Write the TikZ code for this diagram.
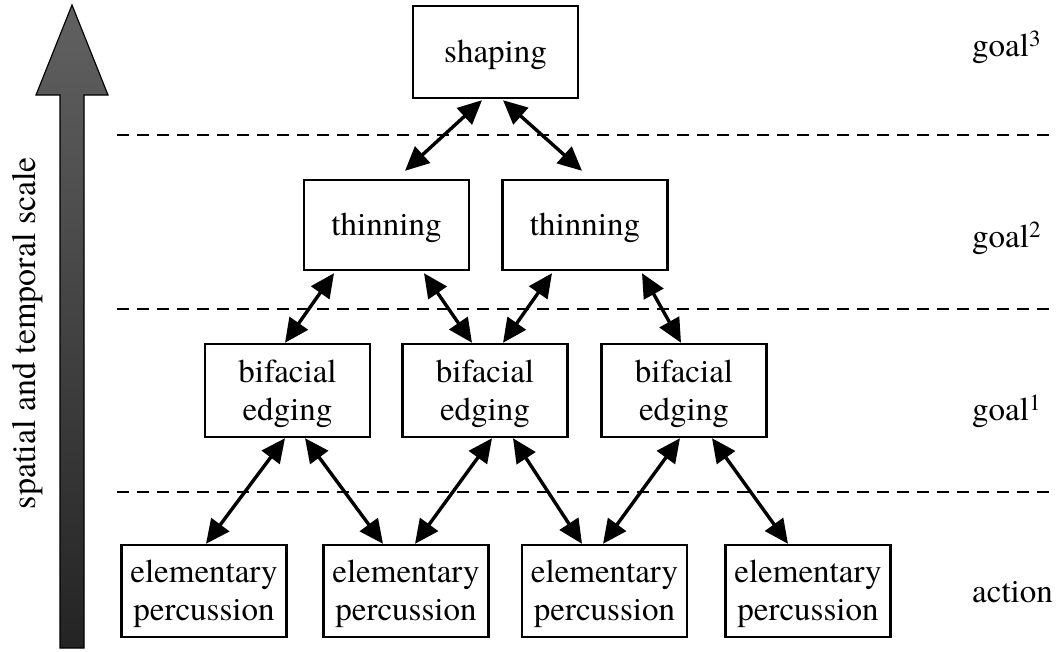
\documentclass[tikz,border=0pt]{standalone}
\usepackage{fontspec}
\setmainfont{texgyretermes}[Extension=.otf, UprightFont=*-regular, BoldFont=*-bold, ItalicFont=*-italic, BoldItalicFont=*-bolditalic]
\usetikzlibrary{arrows.meta}
\begin{document}
\begin{tikzpicture}[x=1pt,y=-1pt,
  box/.style={draw=black, line width=2.4pt, minimum width=165pt, minimum height=92pt, inner sep=0pt, align=center,
    text depth=1.5pt, font=\fontsize{33}{38}\selectfont},
  lvl/.style={anchor=base west, inner sep=0pt, font=\fontsize{33}{38}\selectfont},
  link/.style={line width=3.4pt, {Triangle[length=24pt,width=22pt]}-{Triangle[length=24pt,width=22pt]}},
  sep/.style={line width=2pt, dash pattern=on 12pt off 8pt}]
\useasboundingbox (0,0) rectangle (1062,651);
% big scale arrow
\path[draw=black, line width=1.2pt, top color=black!62, bottom color=black!86]
  (72,5) -- (108,95) -- (84,95) -- (84,648) -- (60,648) -- (60,95) -- (36,95) -- cycle;
\node[rotate=90, inner sep=0pt, font=\fontsize{34}{38}\selectfont] (scale) at (28,333) {spatial and temporal scale};
% separators
\coordinate (d1a) at (117,135); \coordinate (d1b) at (1052,135);
\coordinate (d2a) at (117,309); \coordinate (d2b) at (1052,309);
\coordinate (d3a) at (117,492); \coordinate (d3b) at (1052,492);
\draw[sep] (d1a) -- (d1b);
\draw[sep] (d2a) -- (d2b);
\draw[sep] (d3a) -- (d3b);
% boxes
\node[box] (s) at (495.5,52) {shaping};
\node[box, minimum height=90pt] (tl) at (386.5,225) {thinning};
\node[box, minimum height=90pt] (tr) at (585,225) {thinning};
\node[box, minimum height=93pt] (b1) at (287.5,390.5) {bifacial\\edging};
\node[box, minimum height=93pt] (b2) at (485,390.5) {bifacial\\edging};
\node[box, minimum height=93pt] (b3) at (684,390.5) {bifacial\\edging};
\node[box] (e1) at (204,591) {elementary\\percussion};
\node[box] (e2) at (406,591) {elementary\\percussion};
\node[box] (e3) at (604.5,591) {elementary\\percussion};
\node[box] (e4) at (808,591) {elementary\\percussion};
% level labels
\node[lvl] (g3) at (972,56) {goal\textsuperscript{3}};
\node[lvl] (g2) at (972,247) {goal\textsuperscript{2}};
\node[lvl] (g1) at (972,420) {goal\textsuperscript{1}};
\node[lvl] (ac) at (972,602) {action};
% links
\draw[link] ([xshift=-13.5pt,yshift=-1pt]s.south) -- ([xshift=18.5pt,yshift=8pt]tl.north);
\draw[link] ([xshift=7.5pt,yshift=-1pt]s.south) -- ([xshift=-3pt,yshift=8pt]tr.north);
\draw[link] ([xshift=-52.5pt,yshift=-2pt]tl.south) -- ([xshift=-2.5pt]b1.north);
\draw[link] ([xshift=37.5pt,yshift=-2pt]tl.south) -- ([xshift=-13pt]b2.north);
\draw[link] ([xshift=-33pt,yshift=-2pt]tr.south) -- ([xshift=18pt]b2.north);
\draw[link] ([xshift=57pt,yshift=-2pt]tr.south) -- ([xshift=-3pt]b3.north);
\draw[link] ([xshift=-2.5pt]b1.south) -- ([xshift=2pt]e1.north);
\draw[link] ([xshift=17.5pt]b1.south) -- ([xshift=-23pt]e2.north);
\draw[link] ([xshift=7pt]b2.south) -- ([xshift=9pt]e2.north);
\draw[link] ([xshift=28pt]b2.south) -- ([xshift=-22.5pt]e3.north);
\draw[link] ([xshift=-4pt]b3.south) -- ([xshift=-1.5pt]e3.north);
\draw[link] ([xshift=28pt]b3.south) -- ([xshift=-20pt]e4.north);
\end{tikzpicture}
\end{document}
